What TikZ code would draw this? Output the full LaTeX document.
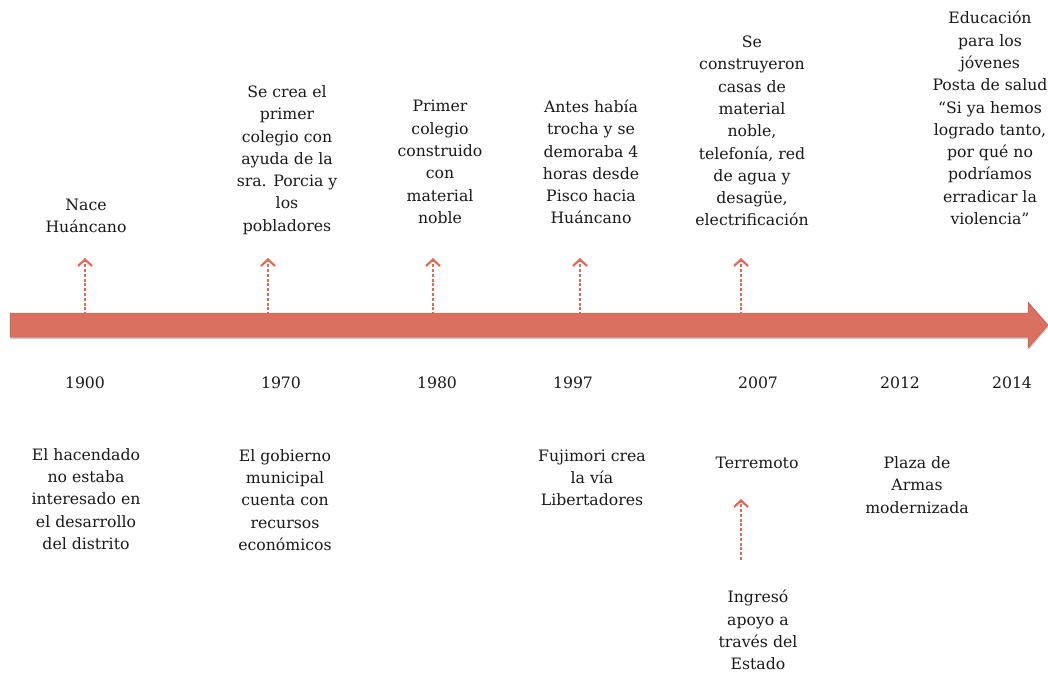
\documentclass[tikz,border=0pt]{standalone}
\usepackage{fontspec}
\setmainfont{DejaVu Serif}
\usetikzlibrary{arrows.meta,shadows}
\definecolor{barfill}{RGB}{218,113,96}
\definecolor{barline}{RGB}{196,92,76}
\definecolor{evcol}{RGB}{224,108,88}
\definecolor{txt}{RGB}{25,25,25}
\tikzset{
  lbl/.style={align=center,inner sep=0pt,text=txt,font=\fontsize{15.7}{22.3}\selectfont},
  yearlbl/.style={inner sep=0pt,text=txt,font=\fontsize{15.7}{22.3}\selectfont},
  evarrow/.style={draw=evcol,line width=1.5pt,dash pattern=on 3pt off 1.8pt,
    -{Straight Barb[length=6.5pt,width=14pt,line width=2.2pt]}},
  mainbar/.style={fill=barfill,draw=barline,line width=0.5pt,
    drop shadow={shadow xshift=0.6pt,shadow yshift=-2pt,opacity=0.35,fill=black!60}}
}
\begin{document}
\begin{tikzpicture}[x=1pt,y=-1pt]
\useasboundingbox (0,0) rectangle (1048,675);

% small event arrows (drawn first, the bar covers their feet)
\coordinate (b1) at (85,320);   \coordinate (u1) at (85,258);
\coordinate (b2) at (268,320);  \coordinate (u2) at (268,258);
\coordinate (b3) at (433,320);  \coordinate (u3) at (433,258);
\coordinate (b4) at (580,320);  \coordinate (u4) at (580,258);
\coordinate (b5) at (741,320);  \coordinate (u5) at (741,258);
\coordinate (l5a) at (741,560); \coordinate (l5b) at (741,499);
\foreach \i in {1,...,5}{\draw[evarrow] (b\i) -- (u\i);}
\draw[evarrow] (l5a) -- (l5b);

% main timeline arrow
\path[mainbar] (10,313) -- (1028,313) -- (1028,302) -- (1048,325) -- (1028,348)
  -- (1028,337) -- (10,337) -- cycle;

% years
\node[yearlbl] (y1900) at (85,383) {1900};
\node[yearlbl] (y1970) at (281,383) {1970};
\node[yearlbl] (y1980) at (437,383) {1980};
\node[yearlbl] (y1997) at (573,383) {1997};
\node[yearlbl] (y2007) at (758,383) {2007};
\node[yearlbl] (y2012) at (900,383) {2012};
\node[yearlbl] (y2014) at (1012,383) {2014};

% upper texts
\node[lbl] (a1900) at (86,216) {Nace\\Huáncano};
\node[lbl] (a1970) at (287,160) {Se crea el\\primer\\colegio con\\ayuda de la\\sra. Porcia y\\los\\pobladores};
\node[lbl] (a1980) at (440,162) {Primer\\colegio\\construido\\con\\material\\noble};
\node[lbl] (a1997) at (591,162) {Antes había\\trocha y se\\demoraba 4\\horas desde\\Pisco hacia\\Huáncano};
\node[lbl] (a2007) at (752,131) {Se\\construyeron\\casas de\\material\\noble,\\telefonía, red\\de agua y\\desagüe,\\electrificación};
\node[lbl] (a2014) at (990,118) {Educación\\para los\\jóvenes\\Posta de salud\\“Si ya hemos\\logrado tanto,\\por qué no\\podríamos\\erradicar la\\violencia”};

% lower texts
\node[lbl] (d1900) at (86,499) {El hacendado\\no estaba\\interesado en\\el desarrollo\\del distrito};
\node[lbl] (d1970) at (285,500) {El gobierno\\municipal\\cuenta con\\recursos\\económicos};
\node[lbl] (d1997) at (592,478) {Fujimori crea\\la vía\\Libertadores};
\node[lbl] (d2007) at (757,463) {Terremoto};
\node[lbl] (d2012) at (917,485) {Plaza de\\Armas\\modernizada};
\node[lbl] (e2007) at (758,630) {Ingresó\\apoyo a\\través del\\Estado};
\end{tikzpicture}
\end{document}
